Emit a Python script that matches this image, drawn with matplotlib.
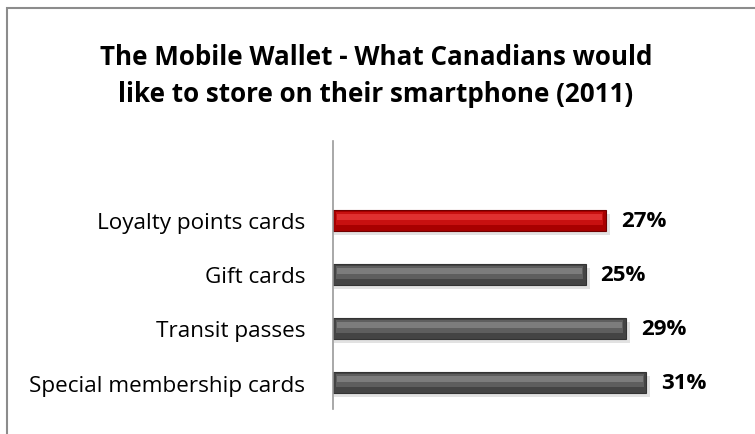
import matplotlib
matplotlib.use("Agg")
import matplotlib.pyplot as plt
from matplotlib.patches import Rectangle

categories = ["Special membership cards", "Transit passes", "Gift cards", "Loyalty points cards"]
values = [31, 29, 25, 27]
highlight = "Loyalty points cards"
title = "The Mobile Wallet - What Canadians would\nlike to store on their smartphone (2011)"

FONT = "Open Sans"
W, H, DPI = 7.55, 4.35, 100

fig = plt.figure(figsize=(W, H), dpi=DPI)
fig.patch.set_facecolor("white")

# outer chart frame (runs off the right and bottom edges)
fig.patches.append(Rectangle((7 / 755, -0.1), 1.2, 1.1 - 9 / 435, transform=fig.transFigure,
                             fill=False, edgecolor="#8c8c8c", linewidth=1.5, zorder=0))

left_px, top_px, bottom_px, width_px = 333, 142, 410, 400
ax = fig.add_axes([left_px / 755, 1 - bottom_px / 435, width_px / 755, (bottom_px - top_px) / 435])
ax.set_xlim(0, width_px / 10.1)
ax.set_ylim(-0.49, 4.47)

ypos = list(range(len(categories)))
bar_h = 0.39
for y, cat, v in zip(ypos, categories, values):
    red = cat == highlight
    base = "#a80000" if red else "#444444"
    mid = "#c81010" if red else "#5e5e5e"
    light = "#e03030" if red else "#7c7c7c"
    edge = "#700000" if red else "#333333"
    # soft shadow
    ax.barh(y - 0.07, v + 0.3, height=bar_h, left=0.1, color="#d0d0d0", alpha=0.6, zorder=1)
    ax.barh(y, v, height=bar_h, color=base, edgecolor=edge, linewidth=0.8, zorder=2)
    # bevel shading
    ax.barh(y + 0.04, v - 0.5, height=bar_h * 0.62, left=0.25, color=mid, zorder=3)
    ax.barh(y + 0.07, v - 0.7, height=bar_h * 0.28, left=0.35, color=light, zorder=4)
    ax.text(v + 1.5, y, f"{v}%", va="center", ha="left", fontsize=16, fontweight="bold",
            family=FONT, color="black")

ax.set_yticks(ypos)
ax.set_yticklabels(categories, fontsize=16.2, family=FONT)
ax.tick_params(axis="y", length=0, pad=20)
ax.set_xticks([])
for s in ["top", "right", "bottom"]:
    ax.spines[s].set_visible(False)
ax.spines["left"].set_color("#9a9a9a")
ax.spines["left"].set_linewidth(1.2)
ax.spines["left"].set_zorder(5)

fig.text(376 / 755, 1 - 76 / 435, title, ha="center", va="center", fontsize=18.7,
         fontweight="bold", family=FONT, linespacing=1.5)

fig.savefig("out.png", dpi=DPI)
